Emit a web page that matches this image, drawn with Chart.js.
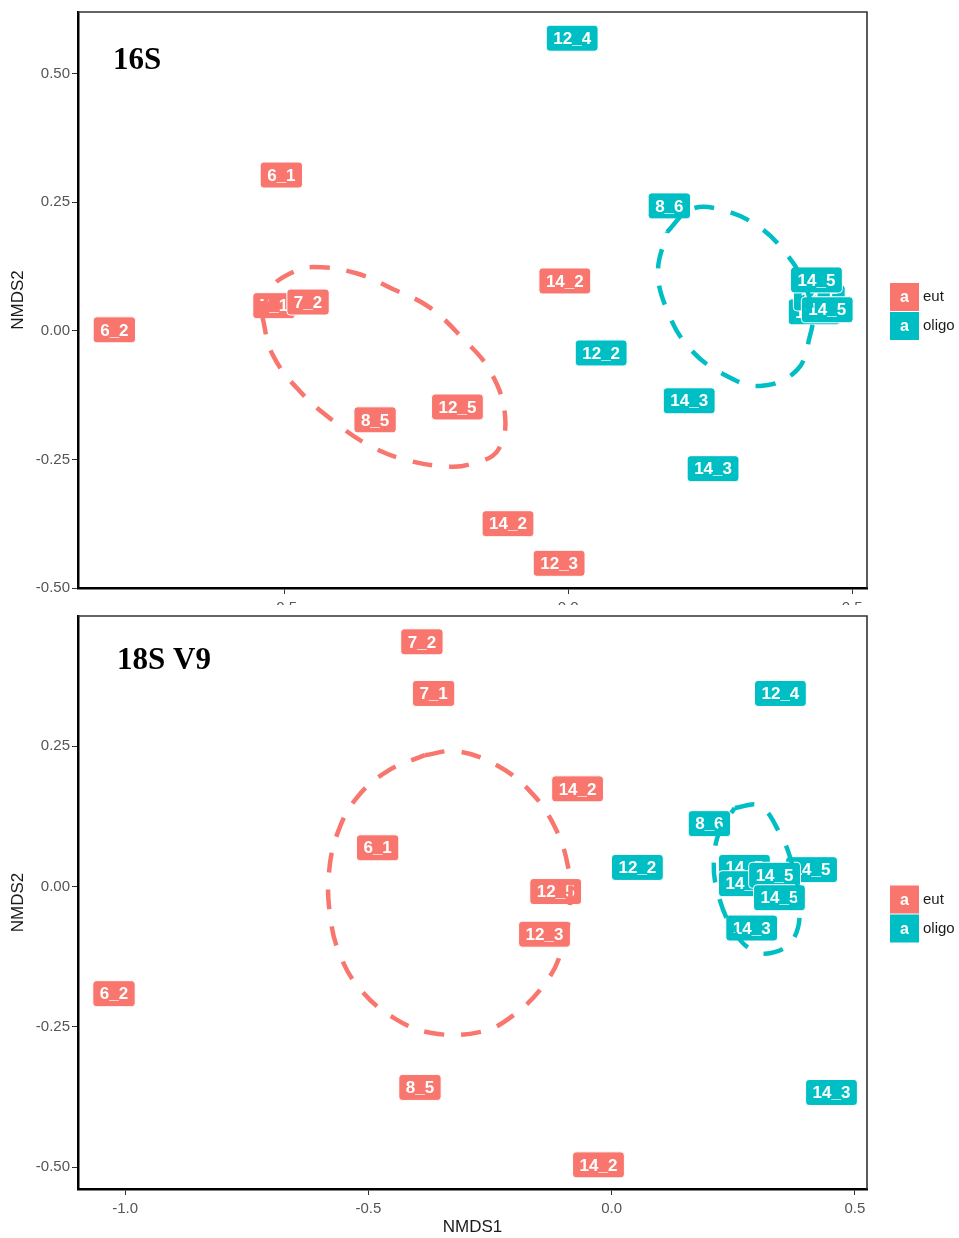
<!DOCTYPE html>
<html>
<head>
<meta charset="utf-8">
<script src="https://cdn.jsdelivr.net/npm/chart.js@4.4.1/dist/chart.umd.min.js"></script>
<style>
  html, body { margin: 0; padding: 0; background: #fff; }
  #page { position: relative; width: 959px; height: 1238px; overflow: hidden; }
  #topClip { position: absolute; left: 0; top: 0; width: 959px; height: 605px; overflow: hidden; }
  #topBox { position: relative; width: 959px; height: 640px; }
  #botBox { position: absolute; left: 0; top: 605px; width: 959px; height: 633px; }
</style>
</head>
<body>
<div id="page">
  <div id="topClip"><div id="topBox"><canvas id="c16"></canvas></div></div>
  <div id="botBox"><canvas id="c18"></canvas></div>
</div>
<script>
const RED = "#F8766D";
const TEAL = "#00BFC4";

// ---- 16S panel ----
const s16EutLab = ["6_1", "7_1", "7_2", "6_2", "14_2", "8_5", "12_5", "14_2", "12_3"];
const s16EutX   = [-0.505, -0.518, -0.458, -0.799, -0.006, -0.340, -0.195, -0.106, -0.016];
const s16EutY   = [0.303, 0.049, 0.056, 0.002, 0.097, -0.173, -0.148, -0.375, -0.452];

const s16OliLab = ["12_4", "8_6", "12_2", "14_3", "14_3", "14_5", "14_5", "14_5", "14_5"];
const s16OliX   = [0.007, 0.178, 0.058, 0.213, 0.255, 0.433, 0.442, 0.437, 0.456];
const s16OliY   = [0.569, 0.243, -0.043, -0.136, -0.268, 0.037, 0.064, 0.099, 0.041];

// ellipse outlines
const s16EutRing = [[-0.539, 0.030], [-0.523, 0.083], [-0.489, 0.112], [-0.449, 0.124], [-0.373, 0.112],
  [-0.308, 0.081], [-0.246, 0.047], [-0.188, -0.012], [-0.137, -0.079], [-0.111, -0.167],
  [-0.125, -0.234], [-0.169, -0.258], [-0.208, -0.264], [-0.282, -0.252], [-0.350, -0.223],
  [-0.415, -0.174], [-0.472, -0.118], [-0.521, -0.045]];
const s16OliRing = [[0.174, 0.192], [0.215, 0.236], [0.268, 0.236], [0.335, 0.203], [0.386, 0.147],
  [0.417, 0.089], [0.430, 0.031], [0.426, -0.008], [0.403, -0.076], [0.338, -0.107],
  [0.271, -0.083], [0.213, -0.033], [0.176, 0.035], [0.158, 0.114]];

const s16XTicks = [-0.5, 0.0, 0.5];
const s16YTicks = [-0.50, -0.25, 0.00, 0.25, 0.50];

// ---- 18S V9 panel ----
const s18EutLab = ["7_2", "7_1", "6_1", "14_2", "12_5", "12_3", "6_2", "8_5", "14_2"];
const s18EutX   = [-0.390, -0.366, -0.481, -0.070, -0.115, -0.138, -1.023, -0.394, -0.027];
const s18EutY   = [0.436, 0.344, 0.069, 0.174, -0.009, -0.085, -0.191, -0.358, -0.496];

const s18OliLab = ["12_4", "8_6", "12_2", "14_5", "14_5", "14_5", "14_5", "14_5", "14_3", "14_3"];
const s18OliX   = [0.347, 0.201, 0.053, 0.411, 0.273, 0.273, 0.335, 0.345, 0.288, 0.452];
const s18OliY   = [0.344, 0.112, 0.034, 0.030, 0.034, 0.005, 0.020, -0.020, -0.074, -0.367];

const s18EutRing = [[-0.384, 0.234], [-0.318, 0.241], [-0.236, 0.216], [-0.168, 0.170], [-0.119, 0.110],
  [-0.090, 0.037], [-0.086, -0.037], [-0.103, -0.115], [-0.138, -0.174], [-0.203, -0.230],
  [-0.269, -0.259], [-0.370, -0.261], [-0.448, -0.234], [-0.516, -0.184], [-0.559, -0.121],
  [-0.579, -0.050], [-0.581, 0.025], [-0.563, 0.096], [-0.524, 0.158], [-0.460, 0.206]];
const s18OliRing = [[0.253, 0.140], [0.304, 0.144], [0.345, 0.096], [0.370, 0.043], [0.386, -0.028],
  [0.376, -0.090], [0.335, -0.117], [0.288, -0.113], [0.247, -0.073], [0.218, -0.011],
  [0.210, 0.043], [0.222, 0.099]];

const s18XTicks = [-1.0, -0.5, 0.0, 0.5];
const s18YTicks = [-0.50, -0.25, 0.00, 0.25];

const groups = ["eut", "oligo"];

function pts(xs, ys) {
  return xs.map((x, i) => ({ x, y: ys[i] }));
}

function ring(r) {
  const d = r.map(p => ({ x: p[0], y: p[1] }));
  d.push({ x: r[0][0], y: r[0][1] }); // close the loop
  return d;
}

function roundRect(ctx, x, y, w, h, r) {
  ctx.beginPath();
  ctx.moveTo(x + r, y);
  ctx.lineTo(x + w - r, y);
  ctx.quadraticCurveTo(x + w, y, x + w, y + r);
  ctx.lineTo(x + w, y + h - r);
  ctx.quadraticCurveTo(x + w, y + h, x + w - r, y + h);
  ctx.lineTo(x + r, y + h);
  ctx.quadraticCurveTo(x, y + h, x, y + h - r);
  ctx.lineTo(x, y + r);
  ctx.quadraticCurveTo(x, y, x + r, y);
  ctx.closePath();
}

// geom_label style boxes, drawn at the points placed by the scales
const boxLabels = {
  id: "boxLabels",
  beforeDatasetsDraw(chart) {
    const ctx = chart.ctx;
    ctx.save();
    ctx.font = "bold 17px 'Liberation Sans', Arial, sans-serif";
    ctx.textAlign = "center";
    ctx.textBaseline = "middle";
    chart.data.datasets.forEach((ds, i) => {
      if (!ds.tags) return;
      const meta = chart.getDatasetMeta(i);
      meta.data.forEach((el, j) => {
        const txt = ds.tags[j];
        const w = ctx.measureText(txt).width + 14;
        const h = 26;
        roundRect(ctx, el.x - w / 2, el.y - h / 2, w, h, 3.5);
        ctx.fillStyle = ds.fillTag;
        ctx.fill();
        ctx.lineWidth = 1;
        ctx.strokeStyle = "#fff";
        ctx.stroke();
        ctx.fillStyle = "#fff";
        ctx.fillText(txt, el.x, el.y + 1);
      });
    });
    ctx.restore();
  },
  afterDraw(chart) {
    const ctx = chart.ctx;
    const a = chart.chartArea;
    const o = chart.options.plugins.boxLabels;
    ctx.save();
    // top / right frame
    ctx.strokeStyle = "#333";
    ctx.lineWidth = 1.6;
    ctx.beginPath();
    ctx.moveTo(a.left, a.top);
    ctx.lineTo(a.right, a.top);
    ctx.lineTo(a.right, a.bottom);
    ctx.stroke();
    // panel title
    ctx.fillStyle = "#000";
    ctx.font = "bold 31px 'Liberation Serif', 'Times New Roman', serif";
    ctx.textAlign = "left";
    ctx.textBaseline = "alphabetic";
    ctx.fillText(o.title, a.left + o.tx, a.top + o.ty);
    // legend
    const ly = (a.top + a.bottom) / 2 + 12 - 29;
    [RED, TEAL].forEach((c, k) => {
      const by = ly + k * 29;
      ctx.fillStyle = c;
      ctx.fillRect(a.right + 23, by, 29, 28);
      ctx.fillStyle = "#fff";
      ctx.font = "bold 16px 'Liberation Sans', Arial, sans-serif";
      ctx.textAlign = "center";
      ctx.textBaseline = "middle";
      ctx.fillText("a", a.right + 23 + 14.5, by + 15);
      ctx.fillStyle = "#1a1a1a";
      ctx.font = "15px 'Liberation Sans', Arial, sans-serif";
      ctx.textAlign = "left";
      ctx.fillText(groups[k], a.right + 56, by + 14);
    });
    ctx.restore();
  }
};

function makePanel(id, p) {
  const tickFont = { family: "'Liberation Sans', Arial, sans-serif", size: 15 };
  return new Chart(document.getElementById(id), {
    type: "scatter",
    data: {
      datasets: [
        { label: "eut", data: pts(p.eutX, p.eutY), tags: p.eutLab, fillTag: RED,
          pointRadius: 0, pointHitRadius: 0, showLine: false },
        { label: "oligo", data: pts(p.oliX, p.oliY), tags: p.oliLab, fillTag: TEAL,
          pointRadius: 0, pointHitRadius: 0, showLine: false },
        { label: "eut ellipse", data: ring(p.eutRing), showLine: true, tension: 0.4,
          borderColor: RED, borderWidth: 4.5, borderDash: [20, 17], pointRadius: 0, fill: false },
        { label: "oligo ellipse", data: ring(p.oliRing), showLine: true, tension: 0.4,
          borderColor: TEAL, borderWidth: 4.5, borderDash: [20, 17], pointRadius: 0, fill: false }
      ]
    },
    options: {
      responsive: true,
      maintainAspectRatio: false,
      animation: false,
      layout: { padding: { left: 0, right: 92, top: p.padTop, bottom: 0 } },
      plugins: {
        legend: { display: false },
        tooltip: { enabled: false },
        boxLabels: { title: p.title, tx: p.tx, ty: p.ty }
      },
      scales: {
        x: {
          type: "linear", min: p.xMin, max: p.xMax,
          afterBuildTicks: s => { s.ticks = p.xTicks.map(v => ({ value: v })); },
          afterFit: s => { s.height = p.xH; },
          ticks: { callback: v => v.toFixed(1), color: "#555", font: tickFont, padding: 5, maxRotation: 0 },
          grid: { display: true, drawOnChartArea: false, drawTicks: true, tickLength: 6, color: "#333" },
          border: { display: true, color: "#000", width: 2.5 },
          title: { display: p.showX, text: "NMDS1", color: "#1a1a1a",
                   font: { family: "'Liberation Sans', Arial, sans-serif", size: 17 }, padding: { top: 0, bottom: 0 } }
        },
        y: {
          type: "linear", min: p.yMin, max: p.yMax,
          afterBuildTicks: s => { s.ticks = p.yTicks.map(v => ({ value: v })); },
          afterFit: s => { s.width = 78; },
          ticks: { callback: v => v.toFixed(2), color: "#555", font: tickFont, padding: 2 },
          grid: { display: true, drawOnChartArea: false, drawTicks: true, tickLength: 6, color: "#333" },
          border: { display: true, color: "#000", width: 2.5 },
          title: { display: true, text: "NMDS2", color: "#1a1a1a",
                   font: { family: "'Liberation Sans', Arial, sans-serif", size: 17 }, padding: { top: 8, bottom: 0 } }
        }
      }
    },
    plugins: [boxLabels]
  });
}

makePanel("c16", {
  eutLab: s16EutLab, eutX: s16EutX, eutY: s16EutY,
  oliLab: s16OliLab, oliX: s16OliX, oliY: s16OliY,
  eutRing: s16EutRing, oliRing: s16OliRing,
  xTicks: s16XTicks, yTicks: s16YTicks,
  xMin: -0.863, xMax: 0.526, yMin: -0.5, yMax: 0.62,
  padTop: 12, xH: 52, showX: false,
  title: "16S", tx: 35, ty: 57
});

makePanel("c18", {
  eutLab: s18EutLab, eutX: s18EutX, eutY: s18EutY,
  oliLab: s18OliLab, oliX: s18OliX, oliY: s18OliY,
  eutRing: s18EutRing, oliRing: s18OliRing,
  xTicks: s18XTicks, yTicks: s18YTicks,
  xMin: -1.097, xMax: 0.525, yMin: -0.539, yMax: 0.482,
  padTop: 7, xH: 49, showX: true,
  title: "18S V9", tx: 39, ty: 53
});
</script>
</body>
</html>
